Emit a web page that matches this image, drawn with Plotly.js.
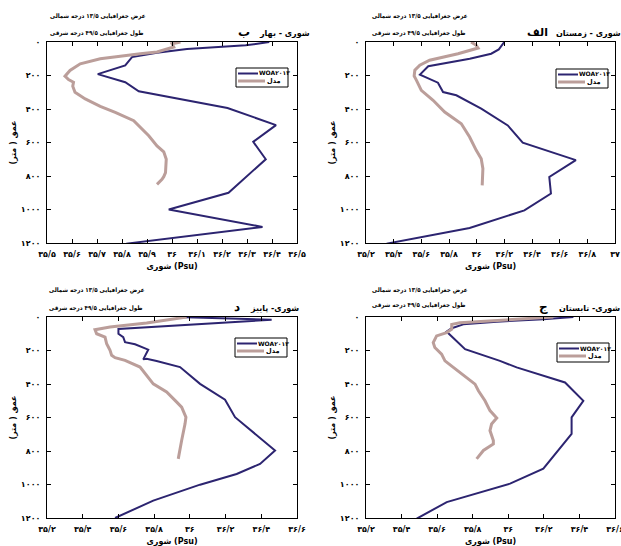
<!DOCTYPE html>
<html><head><meta charset="utf-8">
<script src="https://cdn.plot.ly/plotly-3.0.1.min.js"></script>
<style>body{margin:0;padding:0;background:#fff;overflow:hidden}#chart{width:621px;height:546px}</style>
</head><body><div id="chart"></div>
<script>
// ---- Data (salinity psu vs depth m) ----
// Spring (ب)
const springWoaS = [36.389,36.295,36.06,35.94,35.84,35.813,35.703,35.813,35.867,36.222,36.416,36.325,36.375,36.226,35.987,36.362,35.817];
const springWoaD = [0,20,42,64,90,140,192,240,294,394,496,596,700,900,1000,1104,1204];
const springModS = [36.034,36.0,36.007,35.94,35.873,35.713,35.633,35.592,35.572,35.586,35.606,35.603,35.612,35.653,35.713,35.773,35.847,35.873,35.907,35.94,35.967,35.977,35.974,35.967,35.96,35.94];
const springModD = [0,10,30,60,70,100,130,170,204,224,240,264,300,340,384,420,470,510,560,620,656,700,780,804,820,850];
// Winter (الف)
const winterWoaS = [36.2,36.17,36.16,36.105,35.95,35.65,35.59,35.72,35.757,35.853,36.033,36.225,36.333,36.717,36.525,36.537,36.345,35.949,35.349];
const winterWoaD = [0,30,44,70,100,145,195,243,299,318,398,498,601,705,806,905,1005,1110,1204];
const winterModS = [35.96,35.975,35.997,36.01,35.865,35.66,35.589,35.553,35.548,35.565,35.6,35.685,35.769,35.889,35.949,35.997,36.033,36.045,36.045,36.04];
const winterModD = [0,8,20,36,70,109,139,169,203,229,289,348,418,488,567,647,697,756,816,856];
// Autumn (د)
const autumnWoaS = [35.926,36.458,35.6,35.6,35.627,35.637,35.693,35.767,35.739,35.758,35.814,35.945,36.057,36.197,36.253,36.477,36.393,36.262,36.057,35.795,35.581];
const autumnWoaD = [0,16,72,100,120,150,163,195,253,249,263,299,399,494,598,797,877,937,1001,1096,1200];
const autumnModS = [35.982,35.926,35.758,35.553,35.469,35.478,35.525,35.534,35.553,35.562,35.581,35.637,35.721,35.795,35.87,35.917,35.954,35.978,35.973,35.954,35.945,35.935];
const autumnModD = [0,8,36,60,76,100,120,160,199,229,243,259,299,399,448,498,538,598,638,737,797,847];
// Summer (ج)
const summerWoaS = [36.366,36.197,35.935,35.747,35.682,35.653,35.757,35.953,36.047,36.319,36.422,36.356,36.356,36.197,36.01,35.654,35.485];
const summerWoaD = [0,14,28,44,67,87,192,262,301,391,500,599,698,906,995,1105,1204];
const summerModS = [36.253,35.728,35.682,35.682,35.653,35.597,35.578,35.587,35.625,35.644,35.691,35.766,35.813,35.832,35.869,35.897,35.935,35.906,35.897,35.916,35.916,35.86,35.822];
const summerModD = [0,34,44,73,93,113,153,182,222,262,301,361,401,440,500,559,603,639,678,738,758,797,847];

// ---- Tick labels ----
const depthTicks = [0,200,400,600,800,1000,1200];
const depthLabels = ['۰','۲۰۰','۴۰۰','۶۰۰','۸۰۰','۱۰۰۰','۱۲۰۰'];
const springTicks = [35.5,35.6,35.7,35.8,35.9,36,36.1,36.2,36.3,36.4,36.5];
const springLabels = ['۳۵/۵','۳۵/۶','۳۵/۷','۳۵/۸','۳۵/۹','۳۶','۳۶/۱','۳۶/۲','۳۶/۳','۳۶/۴','۳۶/۵'];
const winterTicks = [35.2,35.4,35.6,35.8,36,36.2,36.4,36.6,36.8,37];
const winterLabels = ['۳۵/۲','۳۵/۴','۳۵/۶','۳۵/۸','۳۶','۳۶/۲','۳۶/۴','۳۶/۶','۳۶/۸','۳۷'];
const lowTicks = [35.2,35.4,35.6,35.8,36,36.2,36.4,36.6];
const lowLabels = ['۳۵/۲','۳۵/۴','۳۵/۶','۳۵/۸','۳۶','۳۶/۲','۳۶/۴','۳۶/۶'];

const seriesNames = ['WOA۲۰۱۳','مدل'];
const NAVY = '#2c2470', ROSE = '#bb9e9a';
const FONT = 'DejaVu Sans';
const CFONT = 'DejaVu Sans Condensed, DejaVu Sans';
const W = 621, H = 546;

function tr(x, y, name, color, width, xa, ya) {
  return {x:x, y:y, type:'scatter', mode:'lines', name:name, xaxis:xa, yaxis:ya, showlegend:false,
          line:{color:color, width:width}};
}
const data = [
  tr(springWoaS, springWoaD, seriesNames[0], NAVY, 2, 'x', 'y'),
  tr(springModS, springModD, seriesNames[1], ROSE, 3, 'x', 'y'),
  tr(winterWoaS, winterWoaD, seriesNames[0], NAVY, 2, 'x2', 'y2'),
  tr(winterModS, winterModD, seriesNames[1], ROSE, 3, 'x2', 'y2'),
  tr(autumnWoaS, autumnWoaD, seriesNames[0], NAVY, 2, 'x3', 'y3'),
  tr(autumnModS, autumnModD, seriesNames[1], ROSE, 3, 'x3', 'y3'),
  tr(summerWoaS, summerWoaD, seriesNames[0], NAVY, 2, 'x4', 'y4'),
  tr(summerModS, summerModD, seriesNames[1], ROSE, 3, 'x4', 'y4')
];

const tickFont = {family:FONT, size:8, color:'#000', weight:'bold'};
function xax(dom, range, tv, tt, anchor) {
  return {domain:dom, range:range, tickvals:tv, ticktext:tt, anchor:anchor, showgrid:false, zeroline:false,
    showline:true, linecolor:'#000', linewidth:1, mirror:'ticks', ticks:'inside', ticklen:4, tickcolor:'#000',
    tickfont:tickFont, tickangle:0, ticklabelstandoff:3, ticklabeloverflow:'allow',
    title:{text:'شوری (Psu)', font:{family:FONT, size:8, color:'#000', weight:'bold'}, standoff:5}};
}
function yax(dom, anchor) {
  return {domain:dom, range:[1200,0], tickvals:depthTicks, ticktext:depthLabels, anchor:anchor, showgrid:false, zeroline:false,
    showline:true, linecolor:'#000', linewidth:1, mirror:'ticks', ticks:'inside', ticklen:4, tickcolor:'#000',
    tickfont:tickFont, ticklabelstandoff:4, ticklabeloverflow:'allow',
    title:{text:'عمق ( متر)', font:{family:FONT, size:8, color:'#000', weight:'bold'}, standoff:3}};
}
const topDom = [1-243/H, 1-42/H];
const botDom = [1-518/H, 1-317/H];
const leftDom = [47/W, 297/W];
const rightDom = [366/W, 615/W];

const annotations = [];
const shapes = [];
function txt(x, cy, text, size, anchor, fam) {
  annotations.push({xref:'paper', yref:'paper', x:x/W, y:1-cy/H, text:text, showarrow:false,
    font:{family:fam || FONT, size:size, color:'#000', weight:'bold'}, xanchor:anchor, align:anchor, yanchor:'middle'});
}
const hdr1 = 'عرض جغرافیایی ۱۳/۵ درجه شمالی';
const hdr2 = 'طول جغرافیایی ۴۹/۵ درجه شرقی';
function panelText(left, y1, y2, title, tcx, ty, letter, lx, lsize) {
  txt(left, y1, hdr1, 6.2, 'left', CFONT); txt(left, y2, hdr2, 6.2, 'left', CFONT);
  txt(tcx, ty, title, 8, 'center'); txt(lx, ty - 1, letter, lsize, 'center');
}
panelText(48, 16, 33, 'شوری - بهار', 284, 33, 'ب', 244, 12);
panelText(370, 16, 33, 'شوری - زمستان', 588, 33, 'الف', 537, 11);
panelText(47, 290, 308, 'شوری- پاییز', 274, 308, 'د', 237, 12);
panelText(370, 290, 305, 'شوری- تابستان', 589, 308, 'ج', 543, 12);

// manual compact legends (box, line samples, labels)
function legendBox(x0, y0) {
  shapes.push({type:'rect', xref:'paper', yref:'paper', x0:x0/W, x1:(x0+52)/W, y0:1-y0/H, y1:1-(y0+19)/H,
    line:{color:'#000', width:1}, fillcolor:'#fff', layer:'above'});
  shapes.push({type:'line', xref:'paper', yref:'paper', x0:(x0+2)/W, x1:(x0+22)/W, y0:1-(y0+5.5)/H, y1:1-(y0+5.5)/H,
    line:{color:NAVY, width:2}, layer:'above'});
  shapes.push({type:'line', xref:'paper', yref:'paper', x0:(x0+2)/W, x1:(x0+29)/W, y0:1-(y0+13)/H, y1:1-(y0+13)/H,
    line:{color:ROSE, width:3}, layer:'above'});
  annotations.push({xref:'paper', yref:'paper', x:(x0+21)/W, y:1-(y0+5)/H, text:seriesNames[0], showarrow:false,
    font:{family:FONT, size:6, color:'#000', weight:'bold'}, xanchor:'left', yanchor:'middle'});
  annotations.push({xref:'paper', yref:'paper', x:(x0+29)/W, y:1-(y0+12.5)/H, text:seriesNames[1], showarrow:false,
    font:{family:FONT, size:6.5, color:'#000', weight:'bold'}, xanchor:'left', yanchor:'middle'});
}
legendBox(236, 68);
legendBox(556, 69);
legendBox(235, 338);
legendBox(557, 343);

const layout = {
  width:W, height:H, margin:{l:0, r:0, t:0, b:0}, paper_bgcolor:'#fff', plot_bgcolor:'#fff',
  font:{family:FONT, color:'#000'}, showlegend:false,
  xaxis: xax(leftDom, [35.5,36.5], springTicks, springLabels, 'y'),
  yaxis: yax(topDom, 'x'),
  xaxis2: xax(rightDom, [35.2,37], winterTicks, winterLabels, 'y2'),
  yaxis2: yax(topDom, 'x2'),
  xaxis3: xax(leftDom, [35.2,36.6], lowTicks, lowLabels, 'y3'),
  yaxis3: yax(botDom, 'x3'),
  xaxis4: xax(rightDom, [35.2,36.6], lowTicks, lowLabels, 'y4'),
  yaxis4: yax(botDom, 'x4'),
  annotations: annotations, shapes: shapes
};
Plotly.newPlot('chart', data, layout, {staticPlot:true, displayModeBar:false});
</script></body></html>
